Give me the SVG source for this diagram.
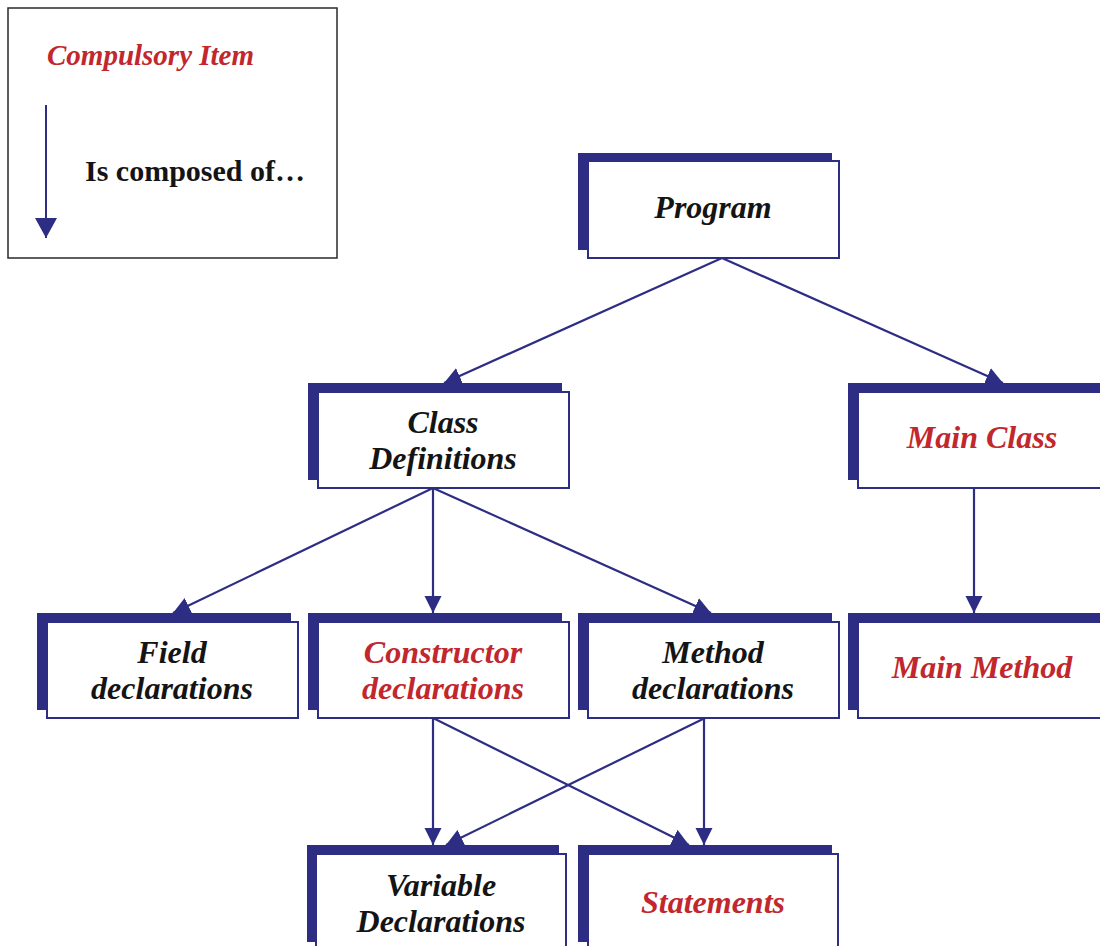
<svg xmlns="http://www.w3.org/2000/svg" width="1100" height="946" viewBox="0 0 1100 946">
<defs>
<marker id="arr" markerUnits="userSpaceOnUse" markerWidth="18" markerHeight="18" refX="17" refY="9" orient="auto">
<path d="M0,0.5 L17,9 L0,17.5 z" fill="#2d2e83"/>
</marker>
<marker id="arrBig" markerUnits="userSpaceOnUse" markerWidth="21" markerHeight="22" refX="20" refY="11" orient="auto">
<path d="M0,0 L20,11 L0,22 z" fill="#2d2e83"/>
</marker>
</defs>
<style>
.shadow{fill:#2d2e83;}
.box{fill:#ffffff;stroke:#2d2e83;stroke-width:2;}
.t{font-family:"Liberation Serif","Times New Roman",serif;font-weight:bold;font-style:italic;font-size:32px;text-anchor:middle;fill:#141414;}
.red{fill:#c1272d;}
.conn{stroke:#2d2e83;stroke-width:2.2;fill:none;marker-end:url(#arr);}
</style>
<rect x="0" y="0" width="1100" height="946" fill="#ffffff"/>

<g id="legend">
<rect x="8" y="8" width="329" height="250" fill="#ffffff" stroke="#2a2a2a" stroke-width="1.5"/>
<text x="47" y="65" font-family="Liberation Serif, serif" font-weight="bold" font-style="italic" font-size="29" fill="#c1272d">Compulsory Item</text>
<line x1="46" y1="105" x2="46" y2="238" stroke="#2d2e83" stroke-width="2" marker-end="url(#arrBig)"/>
<text x="85" y="181" font-family="Liberation Serif, serif" font-weight="bold" font-size="30" fill="#141414">Is composed of…</text>
</g>

<g id="program">
<rect class="shadow" x="578" y="153" width="254" height="97"/>
<rect class="box" x="588" y="161" width="251" height="97"/>
<text class="t" x="713" y="218">Program</text>
</g>

<g id="class-definitions">
<rect class="shadow" x="308" y="383" width="254" height="97"/>
<rect class="box" x="318" y="392" width="251" height="96"/>
<text class="t" x="443" y="433">Class</text>
<text class="t" x="443" y="469">Definitions</text>
</g>

<g id="main-class">
<rect class="shadow" x="848" y="383" width="254" height="97"/>
<rect class="box" x="858" y="392" width="251" height="96"/>
<text class="t red" x="982" y="448">Main Class</text>
</g>

<g id="field-declarations">
<rect class="shadow" x="37" y="613" width="254" height="97"/>
<rect class="box" x="47" y="622" width="251" height="96"/>
<text class="t" x="172" y="663">Field</text>
<text class="t" x="172" y="699">declarations</text>
</g>

<g id="constructor-declarations">
<rect class="shadow" x="308" y="613" width="254" height="97"/>
<rect class="box" x="318" y="622" width="251" height="96"/>
<text class="t red" x="443" y="663">Constructor</text>
<text class="t red" x="443" y="699">declarations</text>
</g>

<g id="method-declarations">
<rect class="shadow" x="578" y="613" width="254" height="97"/>
<rect class="box" x="588" y="622" width="251" height="96"/>
<text class="t" x="713" y="663">Method</text>
<text class="t" x="713" y="699">declarations</text>
</g>

<g id="main-method">
<rect class="shadow" x="848" y="613" width="254" height="97"/>
<rect class="box" x="858" y="622" width="251" height="96"/>
<text class="t red" x="982" y="678">Main Method</text>
</g>

<g id="variable-declarations">
<rect class="shadow" x="307" y="845" width="252" height="97"/>
<rect class="box" x="316" y="854" width="250" height="96"/>
<text class="t" x="441" y="896">Variable</text>
<text class="t" x="441" y="932">Declarations</text>
</g>

<g id="statements">
<rect class="shadow" x="578" y="845" width="254" height="97"/>
<rect class="box" x="588" y="854" width="250" height="96"/>
<text class="t red" x="713" y="913">Statements</text>
</g>

<g id="connectors">
<line class="conn" x1="722" y1="258" x2="444" y2="383"/>
<line class="conn" x1="722" y1="258" x2="1003" y2="383"/>
<line class="conn" x1="433" y1="488" x2="173" y2="613"/>
<line class="conn" x1="433" y1="488" x2="433" y2="613"/>
<line class="conn" x1="433" y1="488" x2="711" y2="613"/>
<line class="conn" x1="974" y1="488" x2="974" y2="613"/>
<line class="conn" x1="433" y1="718" x2="433" y2="845"/>
<line class="conn" x1="433" y1="718" x2="689" y2="845"/>
<line class="conn" x1="705" y1="718" x2="446" y2="845"/>
<line class="conn" x1="704" y1="718" x2="704" y2="845"/>
</g>
</svg>
